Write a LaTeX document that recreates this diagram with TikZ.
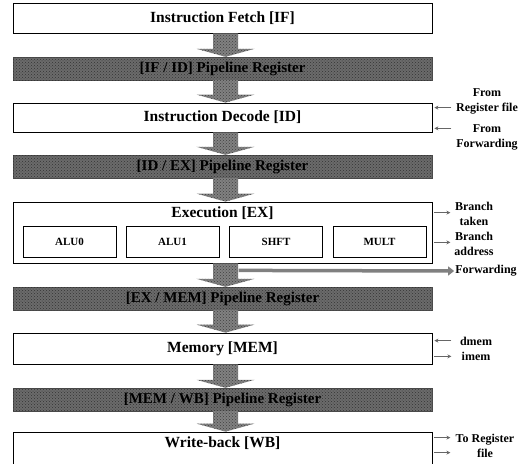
\documentclass[tikz,border=0pt]{standalone}
\usepackage{fontspec}
\setmainfont{Liberation Serif}
\usepackage{xcolor}
\usetikzlibrary{positioning,calc,patterns,arrows.meta}
\definecolor{regfill}{gray}{0.42}
\tikzset{
  stage/.style={draw=black, line width=0.8pt, fill=white, minimum width=419pt, font=\bfseries\fontsize{15.5}{18}\selectfont},
  stagetitle/.style={font=\bfseries\fontsize{15.5}{18}\selectfont},
  unit/.style={draw=black, line width=0.7pt, minimum width=93pt, minimum height=31pt, font=\bfseries\fontsize{11}{13}\selectfont},
  pipereg/.style={draw=black!70, fill=regfill, postaction={pattern=crosshatch dots, pattern color=black!80}, minimum width=419pt, minimum height=23pt, font=\bfseries\fontsize{15}{18}\selectfont},
  blockfill/.style={fill=regfill!85!white, postaction={pattern=crosshatch dots, pattern color=black!75}},
  side/.style={font=\bfseries\fontsize{12}{15}\selectfont, align=center, inner sep=1pt},
  sidearrow/.style={draw=black!60, line width=0.9pt, -{Stealth[length=4pt,width=4pt]}},
  fwdarrow/.style={draw=black!50, line width=3.5pt, -{Triangle[length=6pt,width=9pt]}}
}
\newcommand{\pipearrow}[2]{%
  \path[blockfill] ($(#1.south)+(-9.5,0)$) -- ($(#2.north)+(-9.5,-8)$) -- ($(#2.north)+(-26,-8)$)
    -- ($(#2.north)+(3,0)$) -- ($(#2.north)+(32,-8)$) -- ($(#2.north)+(15.5,-8)$)
    -- ($(#1.south)+(15.5,0)$) -- cycle;}

\begin{document}
\begin{tikzpicture}[x=1pt,y=-1pt]
\useasboundingbox (0,0) rectangle (526,463);
\clip (0,0) rectangle (526,463);
  \node[stage, minimum height=30pt] (if) at (222.5,18) {Instruction Fetch [IF]};
  \node[pipereg] (ifid) at (222.5,68.5) {[IF / ID] Pipeline Register};
  \node[stage, minimum height=29pt] (id) at (222.5,117.5) {Instruction Decode [ID]};
  \node[pipereg] (idex) at (222.5,166.5) {[ID / EX] Pipeline Register};
  \node[stage, minimum height=61pt] (ex) at (222.5,232.5) {};
  \node[stagetitle] (extitle) at (222.5,213) {Execution [EX]};
  \node[unit] (alu0) at (69.5,241.5) {ALU0};
  \node[unit] (alu1) at (172.5,241.5) {ALU1};
  \node[unit] (shft) at (276,241.5) {SHFT};
  \node[unit] (mult) at (379.5,241.5) {MULT};
  \node[pipereg] (exmem) at (222.5,298.5) {[EX / MEM] Pipeline Register};
  \node[stage, minimum height=31pt] (mem) at (222.5,348.5) {Memory [MEM]};
  \node[pipereg] (memwb) at (222.5,399.5) {[MEM / WB] Pipeline Register};
  \node[stage, minimum height=44pt] (wb) at (222.5,454) {};
  \node[stagetitle] (wbtitle) at (222.5,443) {Write-back [WB]};

  \pipearrow{if}{ifid}
  \pipearrow{ifid}{id}
  \pipearrow{id}{idex}
  \pipearrow{idex}{ex}
  \pipearrow{ex}{exmem}
  \pipearrow{exmem}{mem}
  \pipearrow{mem}{memwb}
  \pipearrow{memwb}{wb}

  \node[side] (fromrf) at (487,101) {From\\Register file};
  \node[side] (fromfw) at (487,137) {From\\Forwarding};
  \draw[sidearrow] ($(id.north east)+(19,5)$) -- ($(id.north east)+(2,5)$);
  \draw[sidearrow] ($(id.south east)+(19,-4)$) -- ($(id.south east)+(2,-4)$);

  \node[side] (brtaken) at (474,214) {Branch\\taken};
  \node[side] (braddr) at (474,243.5) {Branch\\address};
  \draw[sidearrow] ($(ex.north east)+(2,11)$) -- ($(ex.north east)+(18,11)$);
  \draw[sidearrow] ($(ex.south east)+(2,-21)$) -- ($(ex.south east)+(18,-21)$);

  \node[side] (fwd) at (486,271) {Forwarding};
  \draw[fwdarrow] ($(ex.south)+(16,7)$) -- (fwd.west);

  \node[side] (dmem) at (476,341) {dmem};
  \node[side] (imem) at (476,356) {imem};
  \draw[sidearrow] ($(mem.north east)+(19,8)$) -- ($(mem.north east)+(2,8)$);
  \draw[sidearrow] ($(mem.south east)+(2,-8)$) -- ($(mem.south east)+(19,-8)$);

  \node[side] (torf) at (485,445.5) {To Register\\file};
  \draw[sidearrow] ($(wb.north east)+(2,6)$) -- ($(wb.north east)+(18,6)$);
  \draw[sidearrow] ($(wb.north east)+(2,21)$) -- ($(wb.north east)+(18,21)$);
\end{tikzpicture}
\end{document}
